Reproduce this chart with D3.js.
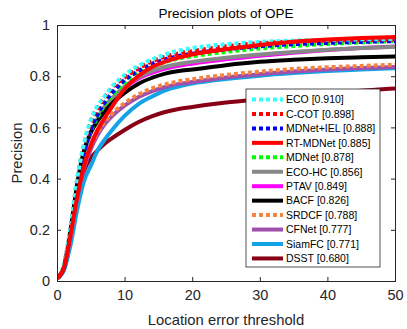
<!DOCTYPE html>
<html>
<head>
<meta charset="utf-8">
<script src="https://cdn.jsdelivr.net/npm/d3@7"></script>
<style>
  body { margin: 0; background: #fff; }
  svg { display: block; font-family: "Liberation Sans", Arial, sans-serif; }
</style>
</head>
<body>
<div id="chart"></div>
<script>
const thresholds = [0, 1, 2, 3, 4, 5, 6, 7, 8, 10, 12, 14, 16, 18, 20, 25, 30, 35, 40, 45, 50];

const trackers = ["ECO", "C-COT", "MDNet+IEL", "RT-MDNet", "MDNet", "ECO-HC", "PTAV", "BACF", "SRDCF", "CFNet", "SiamFC", "DSST"];
const scores = ["0.910", "0.898", "0.888", "0.885", "0.878", "0.856", "0.849", "0.826", "0.788", "0.777", "0.771", "0.680"];

const ecoValues      = [0.01, 0.06, 0.21, 0.40, 0.54, 0.63, 0.685, 0.72, 0.755, 0.805, 0.84, 0.865, 0.885, 0.90, 0.910, 0.925, 0.934, 0.939, 0.942, 0.944, 0.945];
const ccotValues     = [0.01, 0.06, 0.21, 0.40, 0.53, 0.62, 0.675, 0.715, 0.75, 0.795, 0.83, 0.857, 0.876, 0.889, 0.898, 0.917, 0.929, 0.935, 0.939, 0.941, 0.943];
const mdnetIelValues = [0.01, 0.05, 0.19, 0.37, 0.50, 0.59, 0.65, 0.695, 0.73, 0.785, 0.82, 0.847, 0.866, 0.879, 0.888, 0.905, 0.917, 0.925, 0.930, 0.934, 0.937];
const rtMdnetValues  = [0.01, 0.05, 0.18, 0.33, 0.45, 0.53, 0.59, 0.635, 0.675, 0.75, 0.80, 0.835, 0.857, 0.873, 0.885, 0.905, 0.922, 0.935, 0.943, 0.949, 0.953];
const mdnetValues    = [0.01, 0.05, 0.19, 0.37, 0.50, 0.585, 0.64, 0.685, 0.72, 0.775, 0.81, 0.837, 0.855, 0.869, 0.878, 0.895, 0.908, 0.918, 0.926, 0.932, 0.937];
const ecoHcValues    = [0.01, 0.05, 0.19, 0.37, 0.50, 0.58, 0.635, 0.68, 0.71, 0.76, 0.795, 0.82, 0.837, 0.848, 0.856, 0.872, 0.885, 0.895, 0.903, 0.910, 0.915];
const ptavValues     = [0.01, 0.05, 0.19, 0.37, 0.50, 0.58, 0.63, 0.675, 0.705, 0.755, 0.79, 0.813, 0.830, 0.841, 0.849, 0.866, 0.880, 0.892, 0.902, 0.910, 0.916];
const bacfValues     = [0.01, 0.05, 0.20, 0.38, 0.51, 0.58, 0.625, 0.66, 0.69, 0.735, 0.77, 0.793, 0.810, 0.820, 0.826, 0.843, 0.856, 0.864, 0.870, 0.874, 0.877];
const srdcfValues    = [0.01, 0.05, 0.18, 0.35, 0.46, 0.53, 0.58, 0.62, 0.65, 0.695, 0.728, 0.752, 0.768, 0.780, 0.788, 0.805, 0.818, 0.828, 0.835, 0.840, 0.845];
const cfnetValues    = [0.01, 0.05, 0.17, 0.33, 0.44, 0.515, 0.57, 0.61, 0.64, 0.685, 0.718, 0.741, 0.758, 0.770, 0.777, 0.795, 0.808, 0.818, 0.826, 0.832, 0.836];
const siamfcValues   = [0.01, 0.04, 0.14, 0.28, 0.39, 0.45, 0.51, 0.55, 0.585, 0.645, 0.69, 0.72, 0.745, 0.760, 0.771, 0.789, 0.802, 0.812, 0.820, 0.826, 0.831];
const dsstValues     = [0.01, 0.05, 0.18, 0.33, 0.43, 0.48, 0.51, 0.535, 0.555, 0.59, 0.62, 0.643, 0.660, 0.672, 0.680, 0.697, 0.710, 0.722, 0.733, 0.743, 0.752];

const xTicks = [0, 10, 20, 30, 40, 50];
const yTicks = [0, 0.2, 0.4, 0.6, 0.8, 1];

const styles = {
  "ECO":       { color: "#33ffff", dotted: true },
  "C-COT":     { color: "#ff0000", dotted: true },
  "MDNet+IEL": { color: "#0000ff", dotted: true },
  "RT-MDNet":  { color: "#ff0000", dotted: false },
  "MDNet":     { color: "#00ff00", dotted: true },
  "ECO-HC":    { color: "#888888", dotted: false },
  "PTAV":      { color: "#ff00ff", dotted: false },
  "BACF":      { color: "#000000", dotted: false },
  "SRDCF":     { color: "#f7843e", dotted: true },
  "CFNet":     { color: "#a050ac", dotted: false },
  "SiamFC":    { color: "#14a4e6", dotted: false },
  "DSST":      { color: "#880015", dotted: false }
};

const seriesValues = [ecoValues, ccotValues, mdnetIelValues, rtMdnetValues, mdnetValues, ecoHcValues,
  ptavValues, bacfValues, srdcfValues, cfnetValues, siamfcValues, dsstValues];

const series = trackers.map((name, i) => ({
  name,
  label: `${name} [${scores[i]}]`,
  style: styles[name],
  points: thresholds.map((t, j) => [t, seriesValues[i][j]])
}));

// order in which the curves are drawn (last on top)
const drawOrder = ["DSST", "SiamFC", "CFNet", "SRDCF", "PTAV", "ECO-HC", "BACF", "MDNet", "MDNet+IEL", "C-COT", "ECO", "RT-MDNet"];

const width = 407, height = 329;
const margin = { top: 25, right: 12, bottom: 48, left: 57 };
const innerW = width - margin.left - margin.right;
const innerH = height - margin.top - margin.bottom;
const axisColor = "#262626";

const svg = d3.select("#chart").append("svg")
  .attr("width", width)
  .attr("height", height);

const x = d3.scaleLinear().domain([0, 50]).range([margin.left, margin.left + innerW]);
const y = d3.scaleLinear().domain([0, 1]).range([margin.top + innerH, margin.top]);

svg.append("defs").append("clipPath").attr("id", "plotClip")
  .append("rect")
  .attr("x", margin.left).attr("y", margin.top - 3)
  .attr("width", innerW).attr("height", innerH + 3);

const line = d3.line()
  .x(d => x(d[0]))
  .y(d => y(d[1]))
  .curve(d3.curveMonotoneX);

const curves = svg.append("g").attr("clip-path", "url(#plotClip)");
drawOrder.forEach(name => {
  const s = series.find(d => d.name === name);
  curves.append("path")
    .datum(s.points)
    .attr("fill", "none")
    .attr("stroke", s.style.color)
    .attr("stroke-width", 4)
    .attr("stroke-dasharray", s.style.dotted ? "4,3" : null)
    .attr("d", line);
});

// axes with inward ticks on all four sides
const tickLen = 4;
const fmtY = d => d === 0 || d === 1 ? String(d) : d3.format(".1f")(d);

svg.append("g")
  .attr("transform", `translate(0,${margin.top + innerH})`)
  .call(d3.axisBottom(x).tickValues(xTicks).tickSize(-tickLen).tickPadding(9).tickFormat(d3.format("d")))
  .call(g => g.selectAll("text").attr("font-size", 14.5).attr("fill", axisColor));

svg.append("g")
  .attr("transform", `translate(${margin.left},0)`)
  .call(d3.axisLeft(y).tickValues(yTicks).tickSize(-tickLen).tickPadding(7).tickFormat(fmtY))
  .call(g => g.selectAll("text").attr("font-size", 14.5).attr("fill", axisColor));

svg.append("g")
  .attr("transform", `translate(0,${margin.top})`)
  .call(d3.axisTop(x).tickValues(xTicks).tickSize(-tickLen).tickFormat(""));

svg.append("g")
  .attr("transform", `translate(${margin.left + innerW},0)`)
  .call(d3.axisRight(y).tickValues(yTicks).tickSize(-tickLen).tickFormat(""));

svg.selectAll(".domain").attr("stroke", axisColor);
svg.selectAll(".tick line").attr("stroke", axisColor);

// title and axis labels
svg.append("text")
  .attr("x", margin.left + innerW / 2).attr("y", 18)
  .attr("text-anchor", "middle")
  .attr("font-size", 13.5)
  .attr("fill", "#000")
  .text("Precision plots of OPE");

svg.append("text")
  .attr("x", margin.left + innerW / 2).attr("y", 325)
  .attr("text-anchor", "middle")
  .attr("font-size", 14.8)
  .attr("fill", axisColor)
  .text("Location error threshold");

svg.append("text")
  .attr("transform", `translate(22,${margin.top + innerH / 2}) rotate(-90)`)
  .attr("text-anchor", "middle")
  .attr("font-size", 14.8)
  .attr("fill", axisColor)
  .text("Precision");

// legend
const legend = { x: 246, y: 89, w: 134, h: 178, rowH: 14.45, firstRow: 99.5 };
const lg = svg.append("g");
lg.append("rect")
  .attr("x", legend.x).attr("y", legend.y)
  .attr("width", legend.w).attr("height", legend.h)
  .attr("fill", "#fff")
  .attr("stroke", axisColor)
  .attr("stroke-width", 0.8);

series.forEach((s, i) => {
  const cy = legend.firstRow + i * legend.rowH;
  lg.append("line")
    .attr("x1", 252).attr("x2", 283)
    .attr("y1", cy).attr("y2", cy)
    .attr("stroke", s.style.color)
    .attr("stroke-width", 4)
    .attr("stroke-dasharray", s.style.dotted ? "4,3" : null);
  lg.append("text")
    .attr("x", 286).attr("y", cy + 3.8)
    .attr("font-size", 10.5)
    .attr("fill", "#000")
    .text(s.label);
});
</script>
</body>
</html>
